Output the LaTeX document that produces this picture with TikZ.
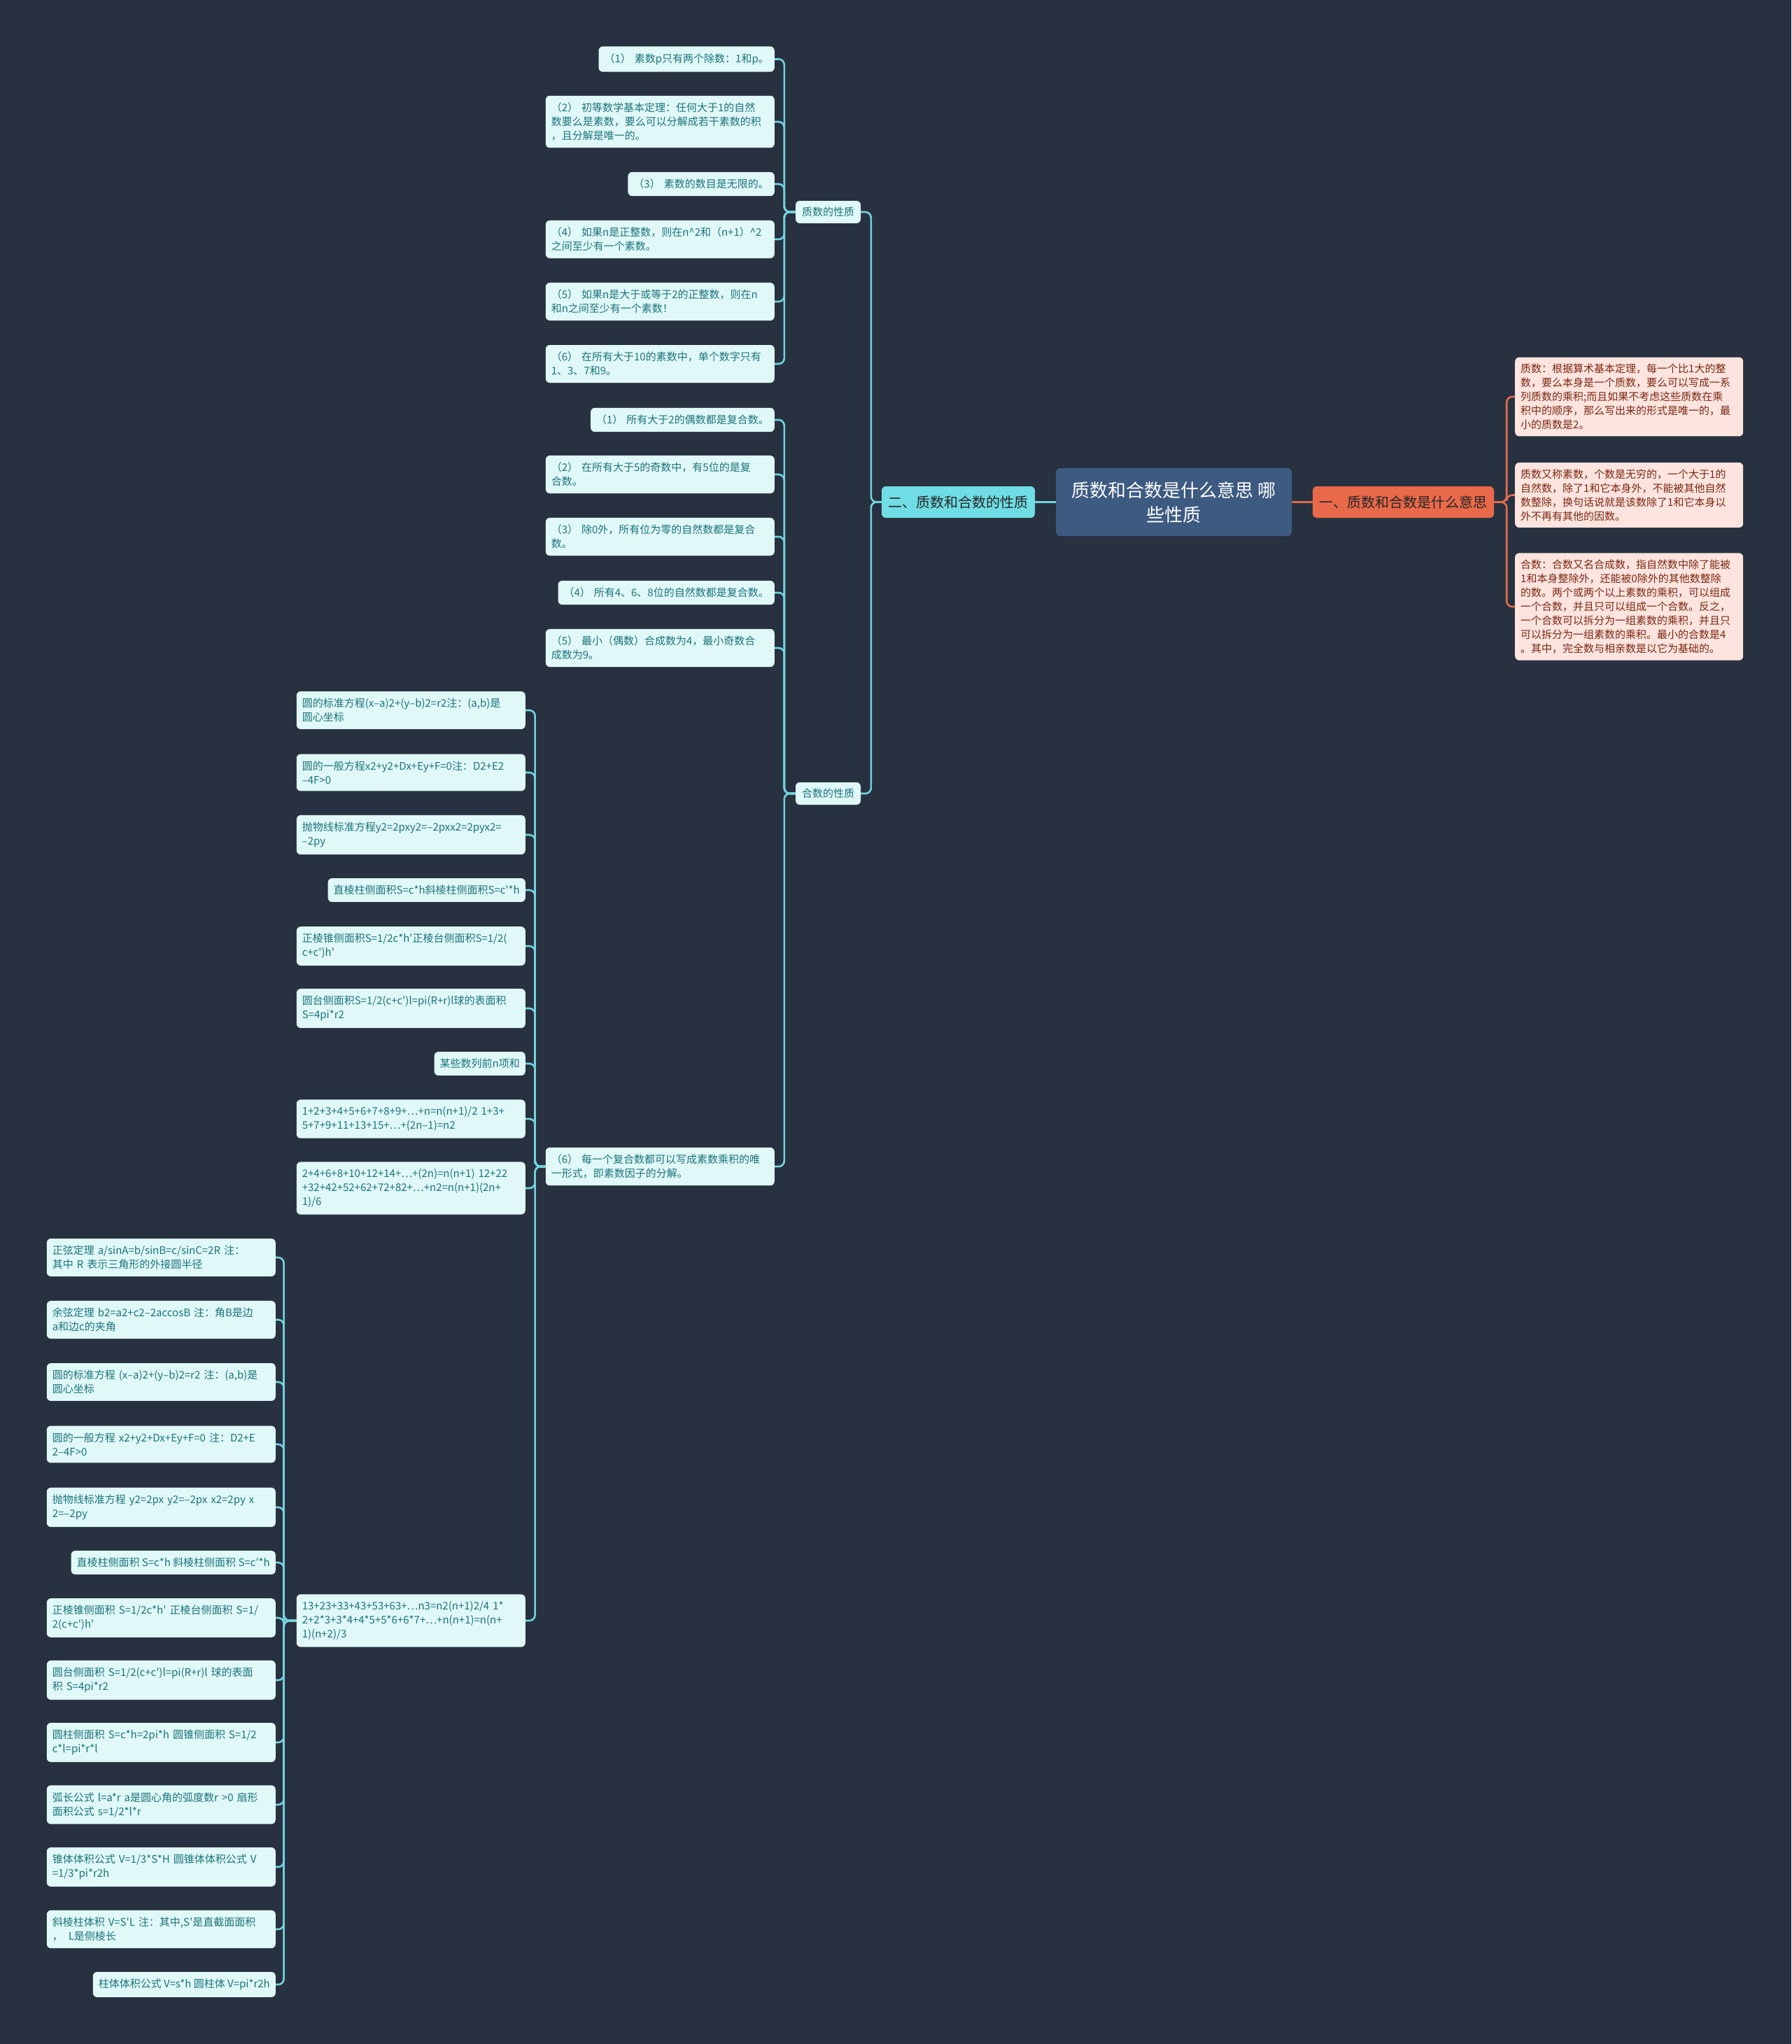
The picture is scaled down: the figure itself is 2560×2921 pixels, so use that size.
\documentclass[tikz,border=0pt]{standalone}
\usepackage{fontspec}
\newfontfamily\cjk{Noto Sans CJK SC}
\usetikzlibrary{backgrounds}
\definecolor{bg}{HTML}{283140}
\definecolor{centerfill}{HTML}{3D5A80}
\definecolor{cyannode}{HTML}{6FDDE3}
\definecolor{orangenode}{HTML}{E9694B}
\definecolor{leaffill}{HTML}{E0F8F8}
\definecolor{leaftext}{HTML}{1C737A}
\definecolor{pinkfill}{HTML}{FDE4DE}
\definecolor{pinktext}{HTML}{7A2712}
\definecolor{cyanline}{HTML}{72D4DF}
\definecolor{orangeline}{HTML}{E26B4C}
\begin{document}
\begin{tikzpicture}[x=1pt,y=-1pt,
  leaf/.style={fill=leaffill, text=leaftext, rounded corners=6pt, inner xsep=8pt, inner ysep=10pt, align=left, font=\cjk\fontsize{15}{20}\selectfont, anchor=east},
  wleaf/.style={leaf, text width=311pt},
  pinkbox/.style={fill=pinkfill, text=pinktext, rounded corners=6pt, inner xsep=8pt, inner ysep=9.5pt, align=left, font=\cjk\fontsize{15}{20}\selectfont, text width=310pt, anchor=west},
  label/.style={fill=leaffill, text=leaftext, rounded corners=6pt, inner sep=0pt, minimum width=93pt, minimum height=32pt, font=\cjk\fontsize{15}{20}\selectfont},
  cconn/.style={draw=cyanline, line width=2.6pt, rounded corners=8pt},
  oconn/.style={draw=orangeline, line width=2.6pt, rounded corners=8pt}
]
% ---------- centre and main branches
\node[fill=centerfill, text=white, rounded corners=6pt, minimum width=337pt, minimum height=97pt, align=center, inner sep=0pt, font=\cjk\fontsize{26}{35}\selectfont] (root) at (1677.5,717.5) {质数和合数是什么意思 哪\\些性质};
\node[fill=orangenode, text=black!85, rounded corners=6pt, minimum width=259pt, minimum height=45pt, inner sep=0pt, font=\cjk\fontsize{20}{24}\selectfont] (one) at (2005.5,717.5) {一、质数和合数是什么意思};
\node[fill=cyannode, text=black!85, rounded corners=6pt, minimum width=219pt, minimum height=45pt, inner sep=0pt, font=\cjk\fontsize{20}{24}\selectfont] (two) at (1369.5,717.5) {二、质数和合数的性质};

% ---------- right: pink boxes
\node[pinkbox] (r1) at (2165,567) {质数：根据算术基本定理，每一个比1大的整\\数，要么本身是一个质数，要么可以写成一系\\列质数的乘积;而且如果不考虑这些质数在乘\\积中的顺序，那么写出来的形式是唯一的，最\\小的质数是2。};
\node[pinkbox] (r2) at (2165,707.5) {质数又称素数，个数是无穷的，一个大于1的\\自然数，除了1和它本身外，不能被其他自然\\数整除，换句话说就是该数除了1和它本身以\\外不再有其他的因数。};
\node[pinkbox] (r3) at (2165,867) {合数：合数又名合成数，指自然数中除了能被\\1和本身整除外，还能被0除外的其他数整除\\的数。两个或两个以上素数的乘积，可以组成\\一个合数，并且只可以组成一个合数。反之，\\一个合数可以拆分为一组素数的乘积，并且只\\可以拆分为一组素数的乘积。最小的合数是4\\。其中，完全数与相亲数是以它为基础的。};

% ---------- second level labels
\node[label] (zx) at (1183.5,303) {质数的性质};
\node[label] (hx) at (1183.5,1134) {合数的性质};

% ---------- 质数的性质 children
\node[leaf] (p1) at (1107,84.5) {（1）\hspace{5pt}素数p只有两个除数：1和p。};
\node[wleaf] (p2) at (1107,174) {（2）\hspace{5pt}初等数学基本定理：任何大于1的自然\\数要么是素数，要么可以分解成若干素数的积\\，且分解是唯一的。};
\node[leaf] (p3) at (1107,263) {（3）\hspace{5pt}素数的数目是无限的。};
\node[wleaf] (p4) at (1107,342) {（4）\hspace{5pt}如果n是正整数，则在n\textasciicircum2和（n+1）\textasciicircum2\\之间至少有一个素数。};
\node[wleaf] (p5) at (1107,431) {（5）\hspace{5pt}如果n是大于或等于2的正整数，则在n\\和n之间至少有一个素数！};
\node[wleaf] (p6) at (1107,520) {（6）\hspace{5pt}在所有大于10的素数中，单个数字只有\\1、3、7和9。};

% ---------- 合数的性质 children
\node[leaf] (c1) at (1107,600) {（1）\hspace{5pt}所有大于2的偶数都是复合数。};
\node[wleaf] (c2) at (1107,678) {（2）\hspace{5pt}在所有大于5的奇数中，有5位的是复\\合数。};
\node[wleaf] (c3) at (1107,767) {（3）\hspace{5pt}除0外，所有位为零的自然数都是复合\\数。};
\node[leaf] (c4) at (1107,847) {（4）\hspace{5pt}所有4、6、8位的自然数都是复合数。};
\node[wleaf] (c5) at (1107,926) {（5）\hspace{5pt}最小（偶数）合成数为4，最小奇数合\\成数为9。};
\node[wleaf] (c6) at (1107,1667) {（6）\hspace{5pt}每一个复合数都可以写成素数乘积的唯\\一形式，即素数因子的分解。};

% ---------- (6) children
\node[wleaf] (m1) at (751,1015) {圆的标准方程(x–a)2+(y–b)2=r2注：(a,b)是\\圆心坐标};
\node[wleaf] (m2) at (751,1104) {圆的一般方程x2+y2+Dx+Ey+F=0注：D2+E2\\–4F>0};
\node[wleaf] (m3) at (751,1193) {抛物线标准方程y2=2pxy2=–2pxx2=2pyx2=\\–2py};
\node[leaf] (m4) at (751,1272) {直棱柱侧面积S=c*h斜棱柱侧面积S=c'*h};
\node[wleaf] (m5) at (751,1352) {正棱锥侧面积S=1/2c*h'正棱台侧面积S=1/2(\\c+c')h'};
\node[wleaf] (m6) at (751,1441) {圆台侧面积S=1/2(c+c')l=pi(R+r)l球的表面积\\S=4pi*r2};
\node[leaf] (m7) at (751,1520) {某些数列前n项和};
\node[wleaf] (m8) at (751,1599) {1+2+3+4+5+6+7+8+9+…+n=n(n+1)/2 1+3+\\5+7+9+11+13+15+…+(2n–1)=n2};
\node[wleaf] (m9) at (751,1698) {2+4+6+8+10+12+14+…+(2n)=n(n+1) 12+22\\+32+42+52+62+72+82+…+n2=n(n+1)(2n+\\1)/6};
\node[wleaf] (m10) at (751,2316) {13+23+33+43+53+63+…n3=n2(n+1)2/4 1*\\2+2*3+3*4+4*5+5*6+6*7+…+n(n+1)=n(n+\\1)(n+2)/3};

% ---------- bottom-left children
\node[wleaf] (b1) at (394,1797) {正弦定理 a/sinA=b/sinB=c/sinC=2R 注：\\其中 R 表示三角形的外接圆半径};
\node[wleaf] (b2) at (394,1886) {余弦定理 b2=a2+c2–2accosB 注：角B是边\\a和边c的夹角};
\node[wleaf] (b3) at (394,1975) {圆的标准方程 (x–a)2+(y–b)2=r2 注：(a,b)是\\圆心坐标};
\node[wleaf] (b4) at (394,2064) {圆的一般方程 x2+y2+Dx+Ey+F=0 注：D2+E\\2–4F>0};
\node[wleaf] (b5) at (394,2154) {抛物线标准方程 y2=2px y2=–2px x2=2py x\\2=–2py};
\node[leaf] (b6) at (394,2233) {直棱柱侧面积 S=c*h 斜棱柱侧面积 S=c'*h};
\node[wleaf] (b7) at (394,2312) {正棱锥侧面积 S=1/2c*h' 正棱台侧面积 S=1/\\2(c+c')h'};
\node[wleaf] (b8) at (394,2401) {圆台侧面积 S=1/2(c+c')l=pi(R+r)l 球的表面\\积 S=4pi*r2};
\node[wleaf] (b9) at (394,2490) {圆柱侧面积 S=c*h=2pi*h 圆锥侧面积 S=1/2\\*c*l=pi*r*l};
\node[wleaf] (b10) at (394,2579) {弧长公式 l=a*r a是圆心角的弧度数r >0 扇形\\面积公式 s=1/2*l*r};
\node[wleaf] (b11) at (394,2668) {锥体体积公式 V=1/3*S*H 圆锥体体积公式 V\\=1/3*pi*r2h};
\node[wleaf] (b12) at (394,2757) {斜棱柱体积 V=S'L 注：其中,S'是直截面面积\\，\hspace{8pt}L是侧棱长};
\node[leaf] (b13) at (394,2836) {柱体体积公式 V=s*h 圆柱体 V=pi*r2h};

% ---------- background and connectors
\begin{pgfonlayer}{background}
\fill[bg] (0,0) rectangle (2560,2921);
\useasboundingbox (0,0) rectangle (2560,2921);
\draw[cconn] (root.west) -- (two.east);
\draw[oconn] (root.east) -- (one.west);
\foreach \c in {r1,r2,r3} \draw[oconn] (one.east) -- ++(18,0) |- (\c.west);
\foreach \c in {zx,hx} \draw[cconn] (two.west) -- ++(-15,0) |- (\c.east);
\foreach \c in {p1,p2,p3,p4,p5,p6} \draw[cconn] (zx.west) -- ++(-16,0) |- (\c.east);
\foreach \c in {c1,c2,c3,c4,c5,c6} \draw[cconn] (hx.west) -- ++(-16,0) |- (\c.east);
\foreach \c in {m1,m2,m3,m4,m5,m6,m7,m8,m9,m10} \draw[cconn] (c6.west) -- ++(-15,0) |- (\c.east);
\foreach \c in {b1,b2,b3,b4,b5,b6,b7,b8,b9,b10,b11,b12,b13} \draw[cconn] (m10.west) -- ++(-18,0) |- (\c.east);
\end{pgfonlayer}
\end{tikzpicture}
\end{document}
